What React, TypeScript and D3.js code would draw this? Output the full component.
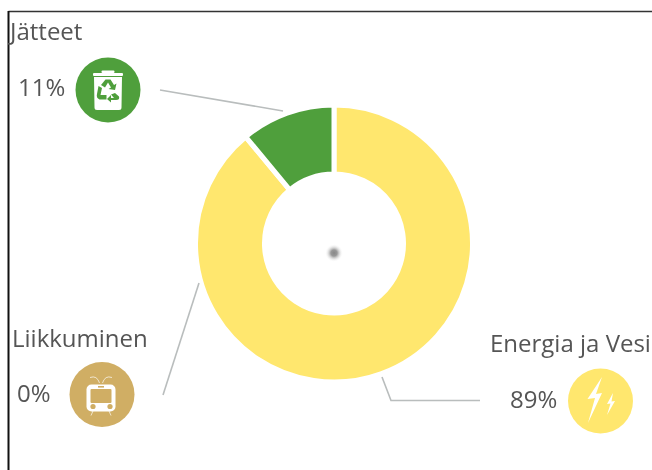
import React from "react";
import * as d3 from "d3";

const categories = ["Energia ja Vesi", "Liikkuminen", "Jätteet"];
const values = [89, 0, 11];
const colors = ["#ffe76e", "#d0ae64", "#4f9f3c"];
const percentLabels = ["89%", "0%", "11%"];

const W = 652, H = 470;
const cx = 334, cy = 243.5;

const pie = d3.pie<number>().sort(null).value((d) => d);
const arc = d3.arc<d3.PieArcDatum<number>>().innerRadius(69.5).outerRadius(138.5);
const leader = d3.line();

function TrashIcon({ x, y }: { x: number; y: number }) {
  const arrow = "M-2.5,-10.5 L2.5,-10.5 L6,-5 L8.5,-6.5 L7,0 L0.5,-1 L3,-2.5 L0,-7.5 L-3,-2.5 L-7,-5 Z";
  return (
    <g transform={`translate(${x},${y})`} fill="#fff">
      <rect x={-6.5} y={-19.5} width={13} height={2.5} rx={1} />
      <rect x={-15} y={-17} width={30} height={3} rx={1} />
      <path d="M-14,-13 H14 L13.5,17.5 Q13.5,20 11,20 H-11 Q-13.5,20 -13.5,17.5 Z" />
      <g fill="#4f9f3c">
        <path d={arrow} />
        <path d="M-6,-2 L-9.5,-4 L-11,4 Q-12,8 -8.5,9.5 L-1.5,9.5 L-1.5,5 L-7.5,5 Z" />
        <path d="M7,3 L3,4.5 L6,8 L3,8 L3,5 L-1,9 L3,12.5 L3,10 L8,10 Q12,10 11,6.5 Z" />
      </g>
    </g>
  );
}

function BusIcon({ x, y }: { x: number; y: number }) {
  return (
    <g transform={`translate(${x},${y})`}>
      <g fill="none" stroke="#fff" strokeWidth={0.8} opacity={0.85}>
        <path d="M-11,-16.5 Q-4,-19 -1.5,-11 M11,-16.5 Q4,-19 1.5,-11" />
        <path d="M-8,17 L-10,21.5 M8,17 L10,21.5" />
      </g>
      <rect x={-14.5} y={-9.5} width={29} height={27} rx={5} fill="#fff" />
      <rect x={-10.5} y={-5} width={21} height={14} rx={1} fill="#d0ae64" />
      <rect x={-3} y={-8} width={6} height={1.6} fill="#d0ae64" />
      <circle cx={-8} cy={12.5} r={2.6} fill="#d0ae64" />
      <circle cx={9} cy={12.5} r={2.6} fill="#d0ae64" />
    </g>
  );
}

function BoltIcon({ x, y }: { x: number; y: number }) {
  return (
    <g transform={`translate(${x},${y})`} fill="#fff">
      <path d="M2,-24 L-12.5,-2 L-5,-3 L-12,22 L2,-8 L-4,-7 Z" />
      <path d="M13,-8 L7,3 L10.5,2.5 L7,14 L15,0 L11.5,0.5 Z" />
    </g>
  );
}

const textStyle: React.CSSProperties = {
  fontFamily: '"Open Sans", sans-serif',
  fill: "#555",
  filter: "url(#soft)",
};

export default function App() {
  const arcs = pie(values);
  return (
    <svg
      width={W}
      height={H}
      viewBox={`0 0 ${W} ${H}`}
      style={{ position: "absolute", left: 0, top: 0, display: "block" }}
    >
      <defs>
        <radialGradient id="dot">
          <stop offset="0%" stopColor="#888" />
          <stop offset="35%" stopColor="#999" />
          <stop offset="100%" stopColor="#fff" stopOpacity={0} />
        </radialGradient>
        <filter id="soft" x="-5%" y="-5%" width="110%" height="110%">
          <feGaussianBlur stdDeviation="0.35" />
        </filter>
      </defs>
      <rect width={W} height={H} fill="#fff" />
      <path d="M652,11.5 H8.5" fill="none" stroke="#333" strokeWidth={1.4} />
      <path d="M8.5,11 V470" fill="none" stroke="#111" strokeWidth={2} />

      {arcs.map((a, i) =>
        a.value > 0 ? (
          <path
            key={categories[i]}
            d={arc(a) ?? ""}
            transform={`translate(${cx},${cy})`}
            fill={colors[i]}
            stroke="#fff"
            strokeWidth={5}
            strokeLinejoin="miter"
          />
        ) : null
      )}
      <circle cx={cx} cy={253} r={9} fill="url(#dot)" />

      <g fill="none" stroke="#b9bdbd" strokeWidth={1.6}>
        <path d={leader([[382, 377], [391, 400.5], [480, 400.5]]) ?? ""} />
        <path d={leader([[163, 395], [199, 283]]) ?? ""} />
        <path d={leader([[160, 90], [283, 111]]) ?? ""} />
      </g>

      <circle cx={600.5} cy={401} r={32.5} fill={colors[0]} />
      <BoltIcon x={600} y={401} />
      <circle cx={102} cy={394.5} r={32.5} fill={colors[1]} />
      <BusIcon x={101} y={394} />
      <circle cx={108} cy={90} r={32.5} fill={colors[2]} />
      <TrashIcon x={108} y={90} />

      <text x={490} y={352} fontSize={24} style={textStyle}>{categories[0]}</text>
      <text x={510} y={408} fontSize={24} style={textStyle}>{percentLabels[0]}</text>
      <text x={12} y={347} fontSize={24} style={textStyle}>{categories[1]}</text>
      <text x={17} y={402} fontSize={24} style={textStyle}>{percentLabels[1]}</text>
      <text x={10} y={40} fontSize={24} style={textStyle}>{categories[2]}</text>
      <text x={18} y={96} fontSize={24} style={textStyle}>{percentLabels[2]}</text>
    </svg>
  );
}
